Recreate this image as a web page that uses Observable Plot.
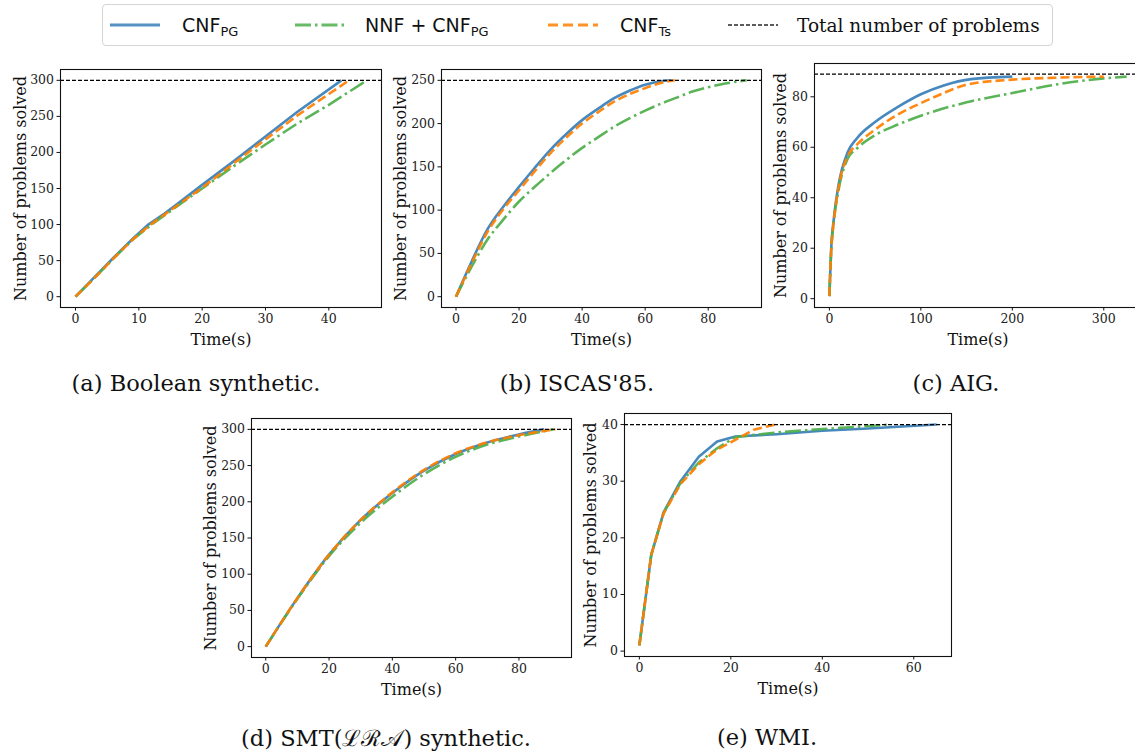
<!DOCTYPE html>
<html>
<head>
<meta charset="utf-8">
<script src="https://cdn.jsdelivr.net/npm/d3@7"></script>
<script src="https://cdn.jsdelivr.net/npm/@observablehq/plot@0.6"></script>
<style>
  html, body { margin: 0; padding: 0; background: white; }
  body { width: 1135px; height: 753px; position: relative; overflow: hidden; }
  .panel { position: absolute; }
  .panel svg { max-width: none !important; overflow: visible; }
  .caption { position: absolute; transform: translate(-50%, -50%); font-family: "DejaVu Serif", serif; font-size: 22.5px; white-space: nowrap; color: #111; }
  #legend { position: absolute; left: 102px; top: 4px; width: 951px; height: 42px; border: 1px solid #d4d4d4; border-radius: 4px; box-sizing: border-box; background: white; }
  .lg-item { position: absolute; top: 0; height: 40px; display: flex; align-items: center; white-space: nowrap; }
  .lg-sans { font-family: "DejaVu Sans", sans-serif; font-size: 19px; color: #111; }
  .lg-sans sub { font-size: 13px; vertical-align: -4px; line-height: 0; }
  .lg-serif { font-family: "DejaVu Serif", serif; font-size: 18.5px; color: #111; }
</style>
</head>
<body>
<div id="legend"></div>
<div id="charts"></div>
<script>
// ---------- data ----------
const seriesNames = ["CNF_PG", "NNF + CNF_PG", "CNF_Ts"];
const seriesColors = ["#377eb8", "#4daf4a", "#ff7f00"];
const seriesDash = [null, "16,4,2.5,4", "9,4"];

// (a) Boolean synthetic  [time(s), problems solved]
const boolPG  = [[0,0],[3,27],[6,54],[9,80],[11.5,100],[14,115],[16,128],[20,155],[25,188],[30,222],[35,256],[42,300]];
const boolNNF = [[0,0],[3,26],[6,53],[9,79],[12,100],[16,125],[20,150],[25,181],[30,211],[35,240],[40,266],[46,300]];
const boolTs  = [[0,0],[3,26],[6,53],[9,79],[12,101],[16,126],[20,151],[25,185],[30,218],[35,251],[40,281],[43.2,300]];
const boolTotal = 300;

// (b) ISCAS'85
const iscasPG  = [[0,0],[5,41],[10,78],[15,104],[20,127],[25,149],[30,170],[35,188],[40,204],[45,217],[50,229],[55,238],[60,245],[65,249],[68.3,250]];
const iscasNNF = [[0,0],[5,35],[10,66],[15,89],[20,110],[25,127],[30,143],[35,158],[40,172],[45,184],[50,196],[55,206],[60,215],[65,223],[70,230],[75,237],[80,242],[85,246],[92.2,250]];
const iscasTs  = [[0,0],[5,39],[10,75],[15,101],[20,123],[25,145],[30,166],[35,184],[40,200],[45,213],[50,225],[55,234],[60,241],[65,247],[69.4,250]];
const iscasTotal = 250;

// (c) AIG
const aigPG  = [[0,1],[2,20],[5,32],[10,45],[20,58],[30,63.5],[50,70],[75,76],[100,81],[125,84.5],[155,87],[200,88]];
const aigNNF = [[0,1],[2,19],[5,31],[10,43],[20,55.5],[30,59.5],[50,64.8],[75,69],[100,72.5],[150,77.8],[200,81.5],[250,85],[300,87.3],[325,88]];
const aigTs  = [[0,1],[2,19],[5,31],[10,44],[20,56.5],[30,61],[50,67],[75,73],[100,77.5],[125,81.5],[150,84.8],[200,86.8],[250,87.6],[300,88]];
const aigTotal = 89;

// (d) SMT(LRA) synthetic
const lraPG  = [[0,0],[10,67],[20,127],[30,175],[40,212],[50,243],[60,266],[70,282],[80,293],[88,300]];
const lraNNF = [[0,0],[10,66],[20,125],[30,171],[40,207],[50,238],[60,262],[70,279],[80,290],[90.9,300]];
const lraTs  = [[0,0],[10,67],[20,127],[30,175],[40,213],[50,244],[60,267],[70,282],[80,292],[91.5,300]];
const lraTotal = 300;

// (e) WMI
const wmiPG  = [[0,1],[2.6,17],[5.3,24.5],[9,30],[13,34.3],[17,37],[21,37.9],[30,38.3],[40,38.9],[50,39.3],[65,40]];
const wmiNNF = [[0,1],[2.6,17],[5.3,24.4],[9,29.7],[13,33.3],[17,35.8],[21,37.8],[30,38.6],[40,39.2],[55,40]];
const wmiTs  = [[0,1],[2.6,17],[5.3,24.3],[9,29.5],[13,33],[17,35.6],[21,37.3],[25,39.1],[29.7,40]];
const wmiTotal = 40;

const captions = ["(a) Boolean synthetic.", "(b) ISCAS'85.", "(c) AIG.", "(d) SMT(ℒℛ𝒜) synthetic.", "(e) WMI."];
const xLabel = "Time(s)";
const yLabel = "Number of problems solved";
const legendTotal = "Total number of problems";

// ---------- layout ----------
const panels = [
  {series:[boolPG, boolNNF, boolTs], total:boolTotal, curve:"linear", left:0, top:60, width:385, height:290, ml:60, mr:4, mt:9, mb:43,
   xd:[-2.37,48.32], yd:[-15,315], xt:[0,10,20,30,40], yt:[0,50,100,150,200,250,300], ydx:-40, cap:[196,383]},
  {series:[iscasPG, iscasNNF, iscasTs], total:iscasTotal, curve:"monotone-x", left:380, top:60, width:385, height:290, ml:61, mr:4, mt:9, mb:43,
   xd:[-4.6,96.9], yd:[-12.5,262.5], xt:[0,20,40,60,80], yt:[0,50,100,150,200,250], ydx:-41, cap:[577,383]},
  {series:[aigPG, aigNNF, aigTs], total:aigTotal, curve:"monotone-x", left:760, top:55, width:381, height:295, ml:54, mr:0, mt:8, mb:43,
   xd:[-16.25,341.25], yd:[-3.5,93.2], xt:[0,100,200,300], yt:[0,20,40,60,80], ydx:-34, cap:[956,383]},
  {series:[lraPG, lraNNF, lraTs], total:lraTotal, curve:"monotone-x", left:190, top:410, width:385, height:290, ml:61, mr:4, mt:8, mb:43,
   xd:[-4.5,96.6], yd:[-15,315], xt:[0,20,40,60,80], yt:[0,50,100,150,200,250,300], ydx:-41, cap:[386,737]},
  {series:[wmiPG, wmiNNF, wmiTs], total:wmiTotal, curve:"linear", left:570, top:405, width:385, height:295, ml:54, mr:4, mt:8, mb:44,
   xd:[-3.25,68.25], yd:[-0.95,41.95], xt:[0,20,40,60], yt:[0,10,20,30,40], ydx:-34, cap:[767,737]}
];

const charts = document.getElementById("charts");

panels.forEach((p, i) => {
  const rows = [];
  p.series.forEach((arr, si) => arr.forEach(([t, n]) => rows.push({t, n, s: seriesNames[si]})));
  const lineMarks = seriesNames.map((name, si) =>
    Plot.line(rows.filter(d => d.s === name), {
      x: "t", y: "n", curve: p.curve, stroke: seriesColors[si], strokeWidth: 2.6, strokeOpacity: 0.92,
      strokeDasharray: seriesDash[si] || undefined, strokeLinejoin: "round", strokeLinecap: "butt"
    })
  );
  const chart = Plot.plot({
    width: p.width, height: p.height,
    marginLeft: p.ml, marginRight: p.mr, marginTop: p.mt, marginBottom: p.mb,
    x: {domain: p.xd}, y: {domain: p.yd},
    style: {fontFamily: "DejaVu Serif, serif", fontSize: "12.5px", color: "#222", background: "transparent", overflow: "visible"},
    marks: [
      ...lineMarks,
      Plot.ruleY([p.total], {stroke: "black", strokeWidth: 1.2, strokeDasharray: "4,2"}),
      Plot.frame({stroke: "#111", strokeWidth: 1.1}),
      Plot.axisX({ticks: p.xt, tickSize: 3.5, tickPadding: 3, label: null, tickFormat: d => String(d), stroke: "#111", fontSize: 12.5}),
      Plot.axisY({ticks: p.yt, tickSize: 3.5, tickPadding: 3, label: null, tickFormat: d => String(d), stroke: "#111", fontSize: 12.5}),
      Plot.text([xLabel], {text: d => d, frameAnchor: "bottom", lineAnchor: "middle", textAnchor: "middle", dy: 32, fontSize: 16, fill: "#111"}),
      Plot.text([yLabel], {text: d => d, frameAnchor: "left", lineAnchor: "middle", textAnchor: "middle", rotate: -90, dx: p.ydx, fontSize: 16, fill: "#111"})
    ]
  });
  const wrap = document.createElement("div");
  wrap.className = "panel";
  wrap.style.left = p.left + "px";
  wrap.style.top = p.top + "px";
  wrap.appendChild(chart);
  charts.appendChild(wrap);

  const cap = document.createElement("div");
  cap.className = "caption";
  cap.style.left = p.cap[0] + "px";
  cap.style.top = p.cap[1] + "px";
  cap.textContent = captions[i];
  document.body.appendChild(cap);
});

// ---------- legend ----------
const legend = document.getElementById("legend");
const legendItems = [
  {x: 7,   w: 50, color: seriesColors[0], dash: null,   width: 3, html: 'CNF<sub>PG</sub>', cls: "lg-sans", tx: 79},
  {x: 192, w: 50, color: seriesColors[1], dash: "16,4,2.5,4", width: 3, html: 'NNF + CNF<sub>PG</sub>', cls: "lg-sans", tx: 262},
  {x: 445, w: 50, color: seriesColors[2], dash: "10,5", width: 3, html: 'CNF<sub>Ts</sub>', cls: "lg-sans", tx: 517},
  {x: 625, w: 50, color: "black", dash: "4,2", width: 1.3, html: legendTotal, cls: "lg-serif", tx: 694}
];
legendItems.forEach(it => {
  const s = document.createElement("div");
  s.className = "lg-item";
  s.style.left = it.x + "px";
  s.innerHTML = `<svg width="${it.w}" height="10"><line x1="0" x2="${it.w}" y1="5" y2="5" stroke="${it.color}" stroke-opacity="0.85" stroke-width="${it.width}" ${it.dash ? `stroke-dasharray="${it.dash}"` : ""}/></svg>`;
  legend.appendChild(s);
  const t = document.createElement("div");
  t.className = "lg-item " + it.cls;
  t.style.left = it.tx + "px";
  t.innerHTML = `<span>${it.html}</span>`;
  legend.appendChild(t);
});
</script>
</body>
</html>
